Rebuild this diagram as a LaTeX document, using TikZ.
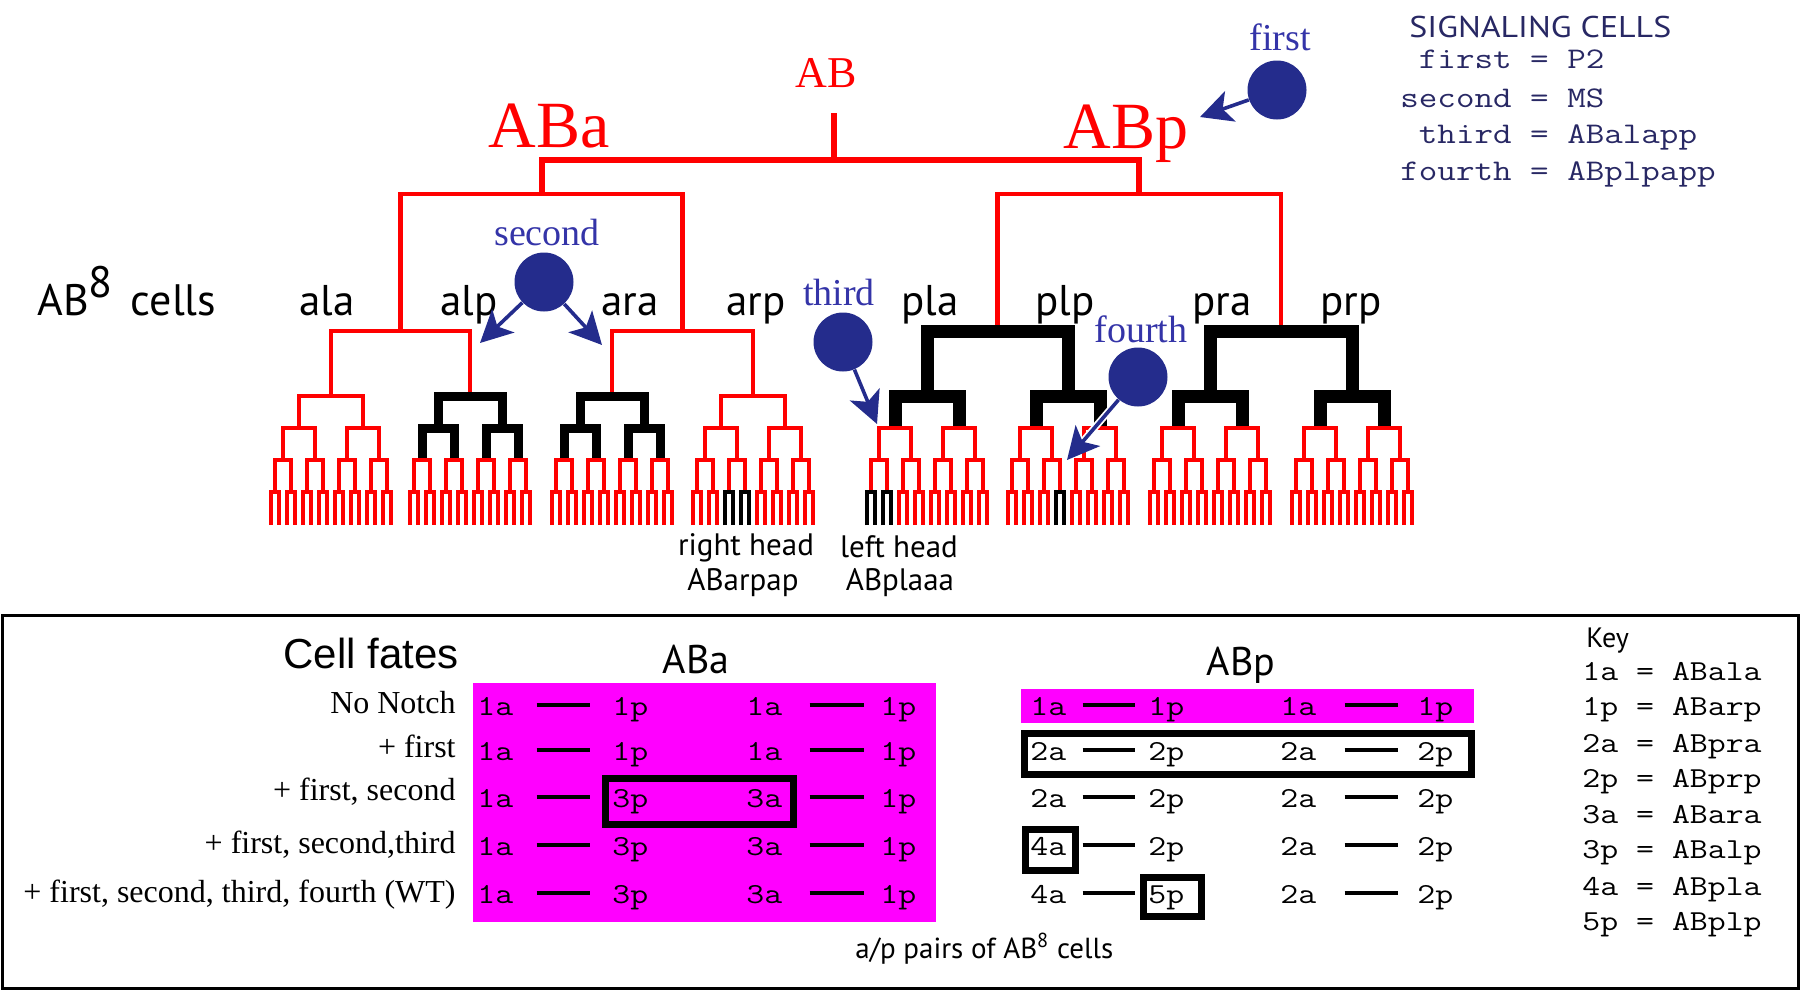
\documentclass[tikz,border=0pt]{standalone}
\usepackage{fontspec}
\usepackage{graphicx}
\setmainfont{Liberation Serif}
\setsansfont{PT Sans}
\newfontfamily\helv{Liberation Sans}
\usetikzlibrary{arrows.meta}

\definecolor{lineagered}{RGB}{255,0,0}
\definecolor{signalblue}{RGB}{36,44,140}
\definecolor{labelblue}{RGB}{52,52,168}
\definecolor{keynavy}{RGB}{40,40,100}
\definecolor{fatemagenta}{RGB}{255,0,255}

% stretched typewriter text (Courier-like cells)
\newcommand{\fc}[1]{\scalebox{1.2}[1]{#1}}

\tikzset{
  redbranch/.style={draw=lineagered, line width=2.4pt},
  rootbranch/.style={draw=lineagered, line width=3pt},
  notchbranch/.style={draw=black, line width=4.5pt},
  heavybranch/.style={draw=black, line width=6.5pt},
  headleaf/.style={draw=black, line width=2.4pt},
  signalcell/.style={circle, fill=signalblue, minimum size=29.5pt, inner sep=0pt},
  signallabel/.style={text=labelblue, font=\fontsize{19}{19}\selectfont, anchor=base, inner sep=0pt},
  signalarrow/.style={draw=signalblue, line width=1.8pt, -{Stealth[length=16pt,width=16pt,inset=4pt]}},
  cellname/.style={font=\sffamily\fontsize{21.5}{21.5}\selectfont, anchor=base, inner sep=0pt},
  headname/.style={font=\sffamily\fontsize{15.5}{15.5}\selectfont, anchor=base, inner sep=0pt},
  fatecell/.style={font=\ttfamily\fontsize{14.5}{14.5}\selectfont, anchor=base west, inner sep=0pt,
    text height=10pt, text depth=0pt},
  legendline/.style={font=\ttfamily\fontsize{15}{15}\selectfont, anchor=base west, inner sep=0pt},
  keyline/.style={font=\ttfamily\fontsize{14.5}{14.5}\selectfont, anchor=base west, inner sep=0pt},
  pairdash/.style={draw=black, line width=2.2pt},
  fatebox/.style={draw=black, line width=3.5pt},
  rowlabel/.style={font=\fontsize{16}{16}\selectfont, anchor=base east, inner sep=0pt},
  tablehead/.style={font=\sffamily\fontsize{20}{20}\selectfont, anchor=base, inner sep=0pt}
}

% one AB8 cell and its four further rounds of division
\newcommand{\founderclone}[3]{%
  \draw[#2] (#1-32,428) |- (#1+32,396) -- (#1+32,428);
  \foreach \k in {0,1}
    \draw[#3] (#1-48+64*\k,460) |- (#1-16+64*\k,428) -- (#1-16+64*\k,460);
  \foreach \k in {0,...,3}
    \draw[redbranch] (#1-56+32*\k,492) |- (#1-40+32*\k,460) -- (#1-40+32*\k,492);
  \foreach \k in {0,...,7}
    \draw[redbranch] (#1-60+16*\k,525) |- (#1-52+16*\k,492) -- (#1-52+16*\k,525);
}
% a last division whose daughters make head cells
\newcommand{\headcomb}[1]{\draw[headleaf] (#1-4,525) |- (#1+4,492) -- (#1+4,525);}

\begin{document}
\begin{tikzpicture}[x=0.5pt,y=-0.5pt]
  \useasboundingbox (0,0) rectangle (1800,991);

  % lineage tree
  \draw[rootbranch] (834,113) -- (834,160);
  \draw[rootbranch] (541.5,194) |- (1139,160) -- (1139,194);
  \draw[redbranch] (400.5,331) |- (682.5,194) -- (682.5,331);
  \draw[redbranch] (997.5,331) |- (1281,194) -- (1281,331);
  \draw[redbranch] (331,396) |- (470,331) -- (470,396);
  \draw[redbranch] (612,396) |- (753,331) -- (753,396);
  \draw[heavybranch] (927,396) |- (1068,331) -- (1068,396);
  \draw[heavybranch] (1210,396) |- (1352,331) -- (1352,396);

  \founderclone{331}{redbranch}{redbranch}
  \founderclone{470}{notchbranch}{notchbranch}
  \founderclone{612}{notchbranch}{notchbranch}
  \founderclone{753}{redbranch}{redbranch}
  \founderclone{927}{heavybranch}{redbranch}
  \founderclone{1068}{heavybranch}{redbranch}
  \founderclone{1210}{heavybranch}{redbranch}
  \founderclone{1352}{heavybranch}{redbranch}
  \foreach \x in {729,745,871,887,1060} {\headcomb{\x}}

  % names
  \node[font=\fontsize{22}{22}\selectfont, text=lineagered, anchor=base, inner sep=0pt] (AB) at (826,87) {AB};
  \node[font=\fontsize{33}{33}\selectfont, text=lineagered, anchor=base, inner sep=0pt] (ABa) at (549,147) {ABa};
  \node[font=\fontsize{33}{33}\selectfont, text=lineagered, anchor=base, inner sep=0pt] (ABp) at (1126,148) {ABp};
  \node[cellname, anchor=base west, font=\sffamily\fontsize{22}{22}\selectfont] (ab8) at (37,315) {AB\raisebox{9pt}{8}\hspace{9pt}cells};
  \node[cellname] (ala) at (327,315) {ala};
  \node[cellname] (alp) at (469,315) {alp};
  \node[cellname] (ara) at (630,315) {ara};
  \node[cellname] (arp) at (756,315) {arp};
  \node[cellname] (pla) at (930,315) {pla};
  \node[cellname] (plp) at (1065,315) {plp};
  \node[cellname] (pra) at (1222,315) {pra};
  \node[cellname] (prp) at (1351,315) {prp};
  \node[headname] (righthead) at (746,555) {right head};
  \node[headname] (rightcell) at (743,590) {ABarpap};
  \node[headname] (lefthead) at (899,557) {left head};
  \node[headname] (leftcell) at (900,590) {ABplaaa};

  % signaling cells
  \node[signalcell] (first) at (1277,90) {};
  \node[signallabel] (firstlbl) at (1280,50) {first};
  \coordinate (firsttip) at (1200,117);
  \draw[signalarrow] (first) -- (firsttip);
  \node[signalcell] (second) at (544,282) {};
  \node[signallabel] (secondlbl) at (547,245) {second};
  \coordinate (alptip) at (480,343);
  \coordinate (aratip) at (602,345);
  \draw[signalarrow] (second) -- (alptip);
  \draw[signalarrow] (second) -- (aratip);
  \node[signalcell] (third) at (843,342) {};
  \node[signallabel] (thirdlbl) at (839,305) {third};
  \coordinate (thirdtip) at (877,424);
  \draw[signalarrow] (third) -- (thirdtip);
  \node[signalcell] (fourth) at (1138,377) {};
  \node[signallabel] (fourthlbl) at (1141,342) {fourth};
  \coordinate (fourthtip) at (1067,460);
  \draw[signalarrow, preaction={draw=white, line width=3.6pt, -}] (fourth) -- (fourthtip);

  % legend
  \node[font=\sffamily\fontsize{15}{15}\selectfont, text=keynavy, anchor=base west, inner sep=0pt] (sigtitle) at (1409,37) {\scalebox{1.13}[1]{SIGNALING CELLS}};
  \foreach \r/\y/\t in {1/68/~first = P2, 2/107/second = MS, 3/143/~third = ABalapp, 4/180/fourth = ABplpapp}
    \node[legendline, text=keynavy] (sig\r) at (1400,\y) {\fc{\t}};

  % cell fate table
  \draw[line width=1.5pt] (2,615) rectangle (1798,988);
  \node[font=\helv\fontsize{21}{21}\selectfont, anchor=base east, inner sep=0pt] (fates) at (459,668) {Cell fates};
  \node[tablehead] (abahead) at (696,673) {ABa};
  \node[tablehead] (abphead) at (1241,675) {ABp};
  \fill[fatemagenta] (473,683) rectangle (936,922);
  \fill[fatemagenta] (1021,689) rectangle (1474,723);
  \node[rowlabel] (row1) at (456,713) {No Notch};
  \node[rowlabel] (row2) at (456,757) {+ first};
  \node[rowlabel] (row3) at (456,800) {+ first, second};
  \node[rowlabel] (row4) at (456,853) {+ first, second,third};
  \node[rowlabel] (row5) at (456,902) {+ first, second, third, fourth (WT)};

  \foreach \r/\y/\pa/\pb in {1/715/1p/1a, 2/760/1p/1a, 3/807/3p/3a, 4/855/3p/3a, 5/903/3p/3a} {
    \node[fatecell] (aa\r) at (477,\y) {\fc{1a}};
    \node[fatecell] (ab\r) at (612,\y) {\fc{\pa}};
    \node[fatecell] (ac\r) at (746,\y) {\fc{\pb}};
    \node[fatecell] (ad\r) at (880,\y) {\fc{1p}};
    \draw[pairdash, shorten <=11.5pt, shorten >=11pt] (aa\r.east) -- (aa\r.east -| ab\r.west);
    \draw[pairdash, shorten <=13.5pt, shorten >=8pt] (ac\r.east) -- (ac\r.east -| ad\r.west);
  }
  \foreach \r/\y/\ca/\cb/\cc/\cd in {1/715/1a/1p/1a/1p, 2/760/2a/2p/2a/2p, 3/807/2a/2p/2a/2p, 4/855/4a/2p/2a/2p, 5/903/4a/5p/2a/2p} {
    \node[fatecell] (pa\r) at (1030,\y) {\fc{\ca}};
    \node[fatecell] (pb\r) at (1148,\y) {\fc{\cb}};
    \node[fatecell] (pc\r) at (1280,\y) {\fc{\cc}};
    \node[fatecell] (pd\r) at (1417,\y) {\fc{\cd}};
    \draw[pairdash, shorten <=8pt, shorten >=6.5pt] (pa\r.east) -- (pa\r.east -| pb\r.west);
    \draw[pairdash, shorten <=14pt, shorten >=9.5pt] (pc\r.east) -- (pc\r.east -| pd\r.west);
  }
  \draw[fatebox] (605,778) rectangle (793,824);
  \draw[fatebox] (1024,733) rectangle (1471,774);
  \draw[fatebox] (1025,829) rectangle (1075,870);
  \draw[fatebox] (1143,877) rectangle (1201,916);
  \node[font=\sffamily\fontsize{14.5}{14.5}\selectfont, anchor=base west, inner sep=0pt] (pairs) at (855,958) {a/p pairs of AB\textsuperscript{8} cells};

  % key
  \node[font=\sffamily\fontsize{14}{14}\selectfont, anchor=base west, inner sep=0pt] (key) at (1586,647) {Key};
  \foreach \r/\y/\t in {1/680/1a = ABala, 2/715/1p = ABarp, 3/752/2a = ABpra, 4/787/2p = ABprp, 5/823/3a = ABara, 6/858/3p = ABalp, 7/895/4a = ABpla, 8/930/5p = ABplp}
    \node[keyline] (key\r) at (1582,\y) {\fc{\t}};
\end{tikzpicture}
\end{document}
